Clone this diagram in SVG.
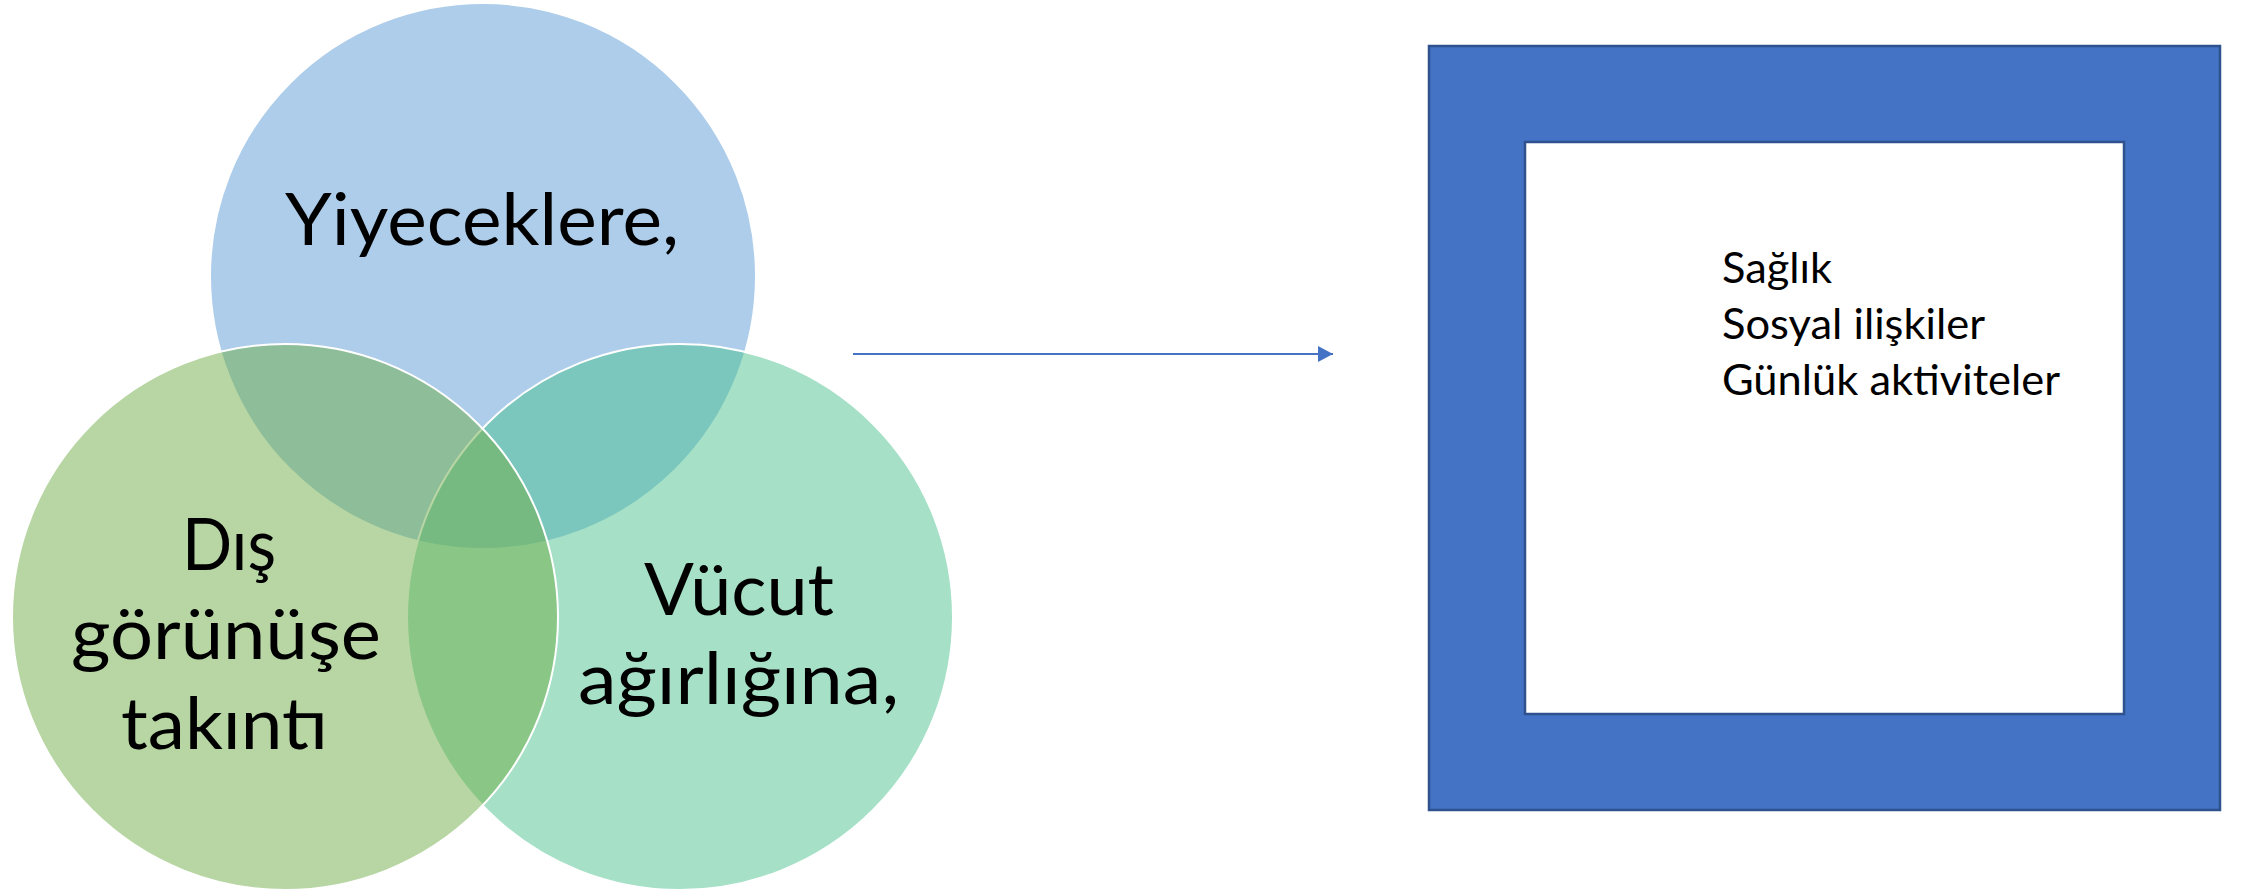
<svg xmlns="http://www.w3.org/2000/svg" width="2241" height="894" viewBox="0 0 2241 894">
  <defs>
    <marker id="arrow" markerWidth="16" markerHeight="17" refX="15" refY="8" orient="auto" markerUnits="userSpaceOnUse">
      <path d="M0,0 L15,8 L0,16 Z" fill="#4472C4"/>
    </marker>
    <style>
      .circle { fill-opacity: 0.5; stroke: #FFFFFF; stroke-width: 2; }
      .big { font-family: Lato, "Open Sans", sans-serif; font-size: 72px; fill: #000000; }
      .small { font-family: Lato, "Open Sans", sans-serif; font-size: 42px; fill: #000000; }
    </style>
  </defs>
  <rect width="2241" height="894" fill="#FFFFFF"/>

  <g id="node-top">
    <circle class="circle" cx="483" cy="276" r="273" fill="#5B9BD5"/>
  </g>
  <g id="node-right">
    <circle class="circle" cx="680" cy="617" r="273" fill="#4BC18F"/>
  </g>
  <g id="node-left">
    <circle class="circle" cx="285" cy="617" r="273" fill="#70AD47"/>
  </g>

  <g id="labels-venn">
    <text class="big" x="285" y="245" textLength="394" lengthAdjust="spacingAndGlyphs">Yiyeceklere,</text>
    <text class="big" x="182" y="570" textLength="94" lengthAdjust="spacingAndGlyphs">Dış</text>
    <text class="big" x="71" y="659" textLength="310" lengthAdjust="spacingAndGlyphs">görünüşe</text>
    <text class="big" x="121" y="749" textLength="207" lengthAdjust="spacingAndGlyphs">takıntı</text>
    <text class="big" x="644" y="615" textLength="190" lengthAdjust="spacingAndGlyphs">Vücut</text>
    <text class="big" x="578" y="704" textLength="321" lengthAdjust="spacingAndGlyphs">ağırlığına,</text>
  </g>

  <g id="connectors">
    <line x1="853" y1="354" x2="1333" y2="354" stroke="#4472C4" stroke-width="1.8" marker-end="url(#arrow)"/>
  </g>

  <g id="node-frame">
    <path d="M1429,46 H2220 V810 H1429 Z M1525,142 V714 H2124 V142 Z" fill="#4472C4" fill-rule="evenodd" stroke="#2F528F" stroke-width="2.5"/>
    <text class="small" x="1722" y="283" textLength="110" lengthAdjust="spacingAndGlyphs">Sağlık</text>
    <text class="small" x="1722" y="339" textLength="263" lengthAdjust="spacingAndGlyphs">Sosyal ilişkiler</text>
    <text class="small" x="1722" y="395" textLength="338" lengthAdjust="spacingAndGlyphs">Günlük aktiviteler</text>
  </g>
</svg>
